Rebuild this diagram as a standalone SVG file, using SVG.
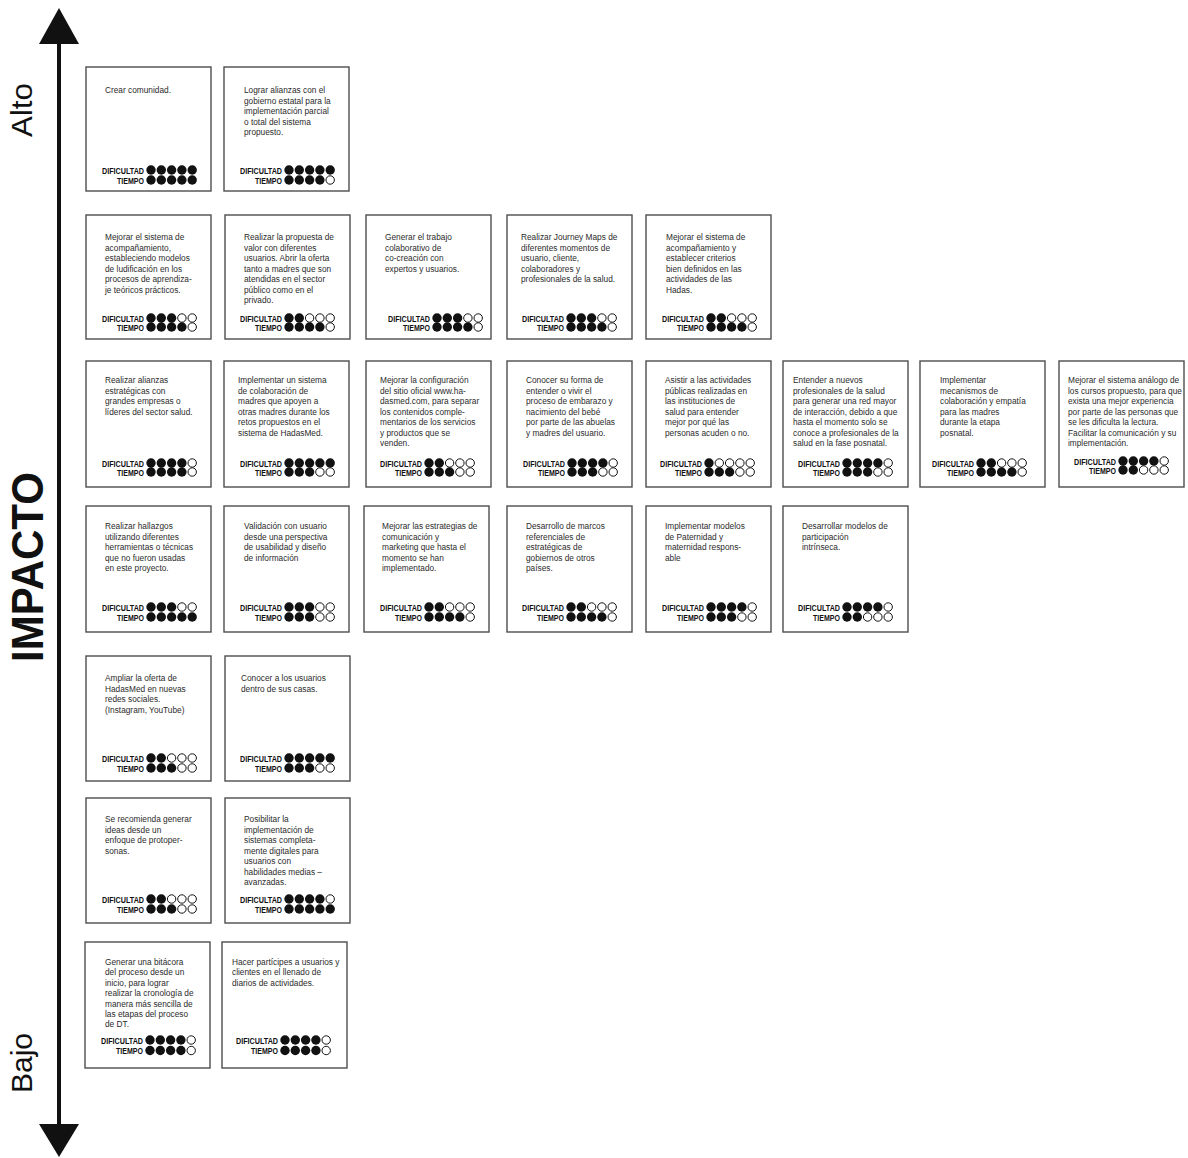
<svg xmlns="http://www.w3.org/2000/svg" width="1188" height="1158" viewBox="0 0 1188 1158">
<style>
.card rect{fill:#fff;stroke:#4d4d4d;stroke-width:1.4}
.t{font-family:"Liberation Sans",Arial,sans-serif;font-size:8.3px;fill:#2b2b2b}
.lbl{font-family:"Liberation Sans",Arial,sans-serif;font-weight:bold;font-size:9px;fill:#111;text-anchor:end}
.f{fill:#111}
.o{fill:#fff;stroke:#111;stroke-width:1}
.ax{font-family:"Liberation Sans",Arial,sans-serif;fill:#111;text-anchor:middle}
</style>
<g id="axis">
<line x1="59" y1="40" x2="59" y2="1126" stroke="#111" stroke-width="4"/>
<polygon points="59,8 39,44 79,44" fill="#111"/>
<polygon points="39,1124 79,1124 59,1157" fill="#111"/>
<text class="ax" transform="translate(32,110) rotate(-90)" font-size="29" textLength="54" lengthAdjust="spacingAndGlyphs">Alto</text>
<text class="ax" transform="translate(32,1063) rotate(-90)" font-size="29" textLength="60" lengthAdjust="spacingAndGlyphs">Bajo</text>
<text class="ax" transform="translate(43,567) rotate(-90)" font-size="44" font-weight="bold" textLength="190" lengthAdjust="spacingAndGlyphs">IMPACTO</text>
</g>

<g id="r1c1" class="card" transform="translate(86,67)">
<rect width="125" height="124"/>
<text class="t" y="26"><tspan x="19">Crear comunidad.</tspan></text>
<text class="lbl" x="58" y="106.5" textLength="42" lengthAdjust="spacingAndGlyphs">DIFICULTAD</text>
<text class="lbl" x="58" y="116.5" textLength="27" lengthAdjust="spacingAndGlyphs">TIEMPO</text>
<circle class="f" cx="65" cy="103" r="4.7"/><circle class="f" cx="75.3" cy="103" r="4.7"/><circle class="f" cx="85.6" cy="103" r="4.7"/><circle class="f" cx="95.9" cy="103" r="4.7"/><circle class="f" cx="106.2" cy="103" r="4.7"/>
<circle class="f" cx="65" cy="113" r="4.7"/><circle class="f" cx="75.3" cy="113" r="4.7"/><circle class="f" cx="85.6" cy="113" r="4.7"/><circle class="f" cx="95.9" cy="113" r="4.7"/><circle class="f" cx="106.2" cy="113" r="4.7"/>
</g>

<g id="r1c2" class="card" transform="translate(224,67)">
<rect width="125" height="124"/>
<text class="t" y="26"><tspan x="20">Lograr alianzas con el</tspan><tspan x="20" dy="10.5">gobierno estatal para la</tspan><tspan x="20" dy="10.5">implementación parcial</tspan><tspan x="20" dy="10.5">o total del sistema</tspan><tspan x="20" dy="10.5">propuesto.</tspan></text>
<text class="lbl" x="58" y="106.5" textLength="42" lengthAdjust="spacingAndGlyphs">DIFICULTAD</text>
<text class="lbl" x="58" y="116.5" textLength="27" lengthAdjust="spacingAndGlyphs">TIEMPO</text>
<circle class="f" cx="65" cy="103" r="4.7"/><circle class="f" cx="75.3" cy="103" r="4.7"/><circle class="f" cx="85.6" cy="103" r="4.7"/><circle class="f" cx="95.9" cy="103" r="4.7"/><circle class="f" cx="106.2" cy="103" r="4.7"/>
<circle class="f" cx="65" cy="113" r="4.7"/><circle class="f" cx="75.3" cy="113" r="4.7"/><circle class="f" cx="85.6" cy="113" r="4.7"/><circle class="f" cx="95.9" cy="113" r="4.7"/><circle class="o" cx="106.2" cy="113" r="4.2"/>
</g>

<g id="r2c1" class="card" transform="translate(86,215)">
<rect width="125" height="124"/>
<text class="t" y="25"><tspan x="19">Mejorar el sistema de</tspan><tspan x="19" dy="10.5">acompañamiento,</tspan><tspan x="19" dy="10.5">estableciendo modelos</tspan><tspan x="19" dy="10.5">de ludificación en los</tspan><tspan x="19" dy="10.5">procesos de aprendiza-</tspan><tspan x="19" dy="10.5">je teóricos prácticos.</tspan></text>
<text class="lbl" x="58" y="106.5" textLength="42" lengthAdjust="spacingAndGlyphs">DIFICULTAD</text>
<text class="lbl" x="58" y="115.5" textLength="27" lengthAdjust="spacingAndGlyphs">TIEMPO</text>
<circle class="f" cx="65" cy="103" r="4.7"/><circle class="f" cx="75.3" cy="103" r="4.7"/><circle class="f" cx="85.6" cy="103" r="4.7"/><circle class="o" cx="95.9" cy="103" r="4.2"/><circle class="o" cx="106.2" cy="103" r="4.2"/>
<circle class="f" cx="65" cy="112" r="4.7"/><circle class="f" cx="75.3" cy="112" r="4.7"/><circle class="f" cx="85.6" cy="112" r="4.7"/><circle class="f" cx="95.9" cy="112" r="4.7"/><circle class="o" cx="106.2" cy="112" r="4.2"/>
</g>

<g id="r2c2" class="card" transform="translate(225,215)">
<rect width="125" height="124"/>
<text class="t" y="25"><tspan x="19">Realizar la propuesta de</tspan><tspan x="19" dy="10.5">valor con diferentes</tspan><tspan x="19" dy="10.5">usuarios. Abrir la oferta</tspan><tspan x="19" dy="10.5">tanto a madres que son</tspan><tspan x="19" dy="10.5">atendidas en el sector</tspan><tspan x="19" dy="10.5">público como en el</tspan><tspan x="19" dy="10.5">privado.</tspan></text>
<text class="lbl" x="57" y="106.5" textLength="42" lengthAdjust="spacingAndGlyphs">DIFICULTAD</text>
<text class="lbl" x="57" y="115.5" textLength="27" lengthAdjust="spacingAndGlyphs">TIEMPO</text>
<circle class="f" cx="64" cy="103" r="4.7"/><circle class="f" cx="74.3" cy="103" r="4.7"/><circle class="o" cx="84.6" cy="103" r="4.2"/><circle class="o" cx="94.9" cy="103" r="4.2"/><circle class="o" cx="105.2" cy="103" r="4.2"/>
<circle class="f" cx="64" cy="112" r="4.7"/><circle class="f" cx="74.3" cy="112" r="4.7"/><circle class="f" cx="84.6" cy="112" r="4.7"/><circle class="f" cx="94.9" cy="112" r="4.7"/><circle class="o" cx="105.2" cy="112" r="4.2"/>
</g>

<g id="r2c3" class="card" transform="translate(366,215)">
<rect width="125" height="124"/>
<text class="t" y="25"><tspan x="19">Generar el trabajo</tspan><tspan x="19" dy="10.5">colaborativo de</tspan><tspan x="19" dy="10.5">co-creación con</tspan><tspan x="19" dy="10.5">expertos y usuarios.</tspan></text>
<text class="lbl" x="64" y="106.5" textLength="42" lengthAdjust="spacingAndGlyphs">DIFICULTAD</text>
<text class="lbl" x="64" y="115.5" textLength="27" lengthAdjust="spacingAndGlyphs">TIEMPO</text>
<circle class="f" cx="71" cy="103" r="4.7"/><circle class="f" cx="81.3" cy="103" r="4.7"/><circle class="f" cx="91.6" cy="103" r="4.7"/><circle class="o" cx="101.9" cy="103" r="4.2"/><circle class="o" cx="112.2" cy="103" r="4.2"/>
<circle class="f" cx="71" cy="112" r="4.7"/><circle class="f" cx="81.3" cy="112" r="4.7"/><circle class="f" cx="91.6" cy="112" r="4.7"/><circle class="f" cx="101.9" cy="112" r="4.7"/><circle class="o" cx="112.2" cy="112" r="4.2"/>
</g>

<g id="r2c4" class="card" transform="translate(507,215)">
<rect width="125" height="124"/>
<text class="t" y="25"><tspan x="14">Realizar Journey Maps de</tspan><tspan x="14" dy="10.5">diferentes momentos de</tspan><tspan x="14" dy="10.5">usuario, cliente,</tspan><tspan x="14" dy="10.5">colaboradores y</tspan><tspan x="14" dy="10.5">profesionales de la salud.</tspan></text>
<text class="lbl" x="57" y="106.5" textLength="42" lengthAdjust="spacingAndGlyphs">DIFICULTAD</text>
<text class="lbl" x="57" y="115.5" textLength="27" lengthAdjust="spacingAndGlyphs">TIEMPO</text>
<circle class="f" cx="64" cy="103" r="4.7"/><circle class="f" cx="74.3" cy="103" r="4.7"/><circle class="f" cx="84.6" cy="103" r="4.7"/><circle class="o" cx="94.9" cy="103" r="4.2"/><circle class="o" cx="105.2" cy="103" r="4.2"/>
<circle class="f" cx="64" cy="112" r="4.7"/><circle class="f" cx="74.3" cy="112" r="4.7"/><circle class="f" cx="84.6" cy="112" r="4.7"/><circle class="f" cx="94.9" cy="112" r="4.7"/><circle class="o" cx="105.2" cy="112" r="4.2"/>
</g>

<g id="r2c5" class="card" transform="translate(646,215)">
<rect width="125" height="124"/>
<text class="t" y="25"><tspan x="20">Mejorar el sistema de</tspan><tspan x="20" dy="10.5">acompañamiento y</tspan><tspan x="20" dy="10.5">establecer criterios</tspan><tspan x="20" dy="10.5">bien definidos en las</tspan><tspan x="20" dy="10.5">actividades de las</tspan><tspan x="20" dy="10.5">Hadas.</tspan></text>
<text class="lbl" x="58" y="106.5" textLength="42" lengthAdjust="spacingAndGlyphs">DIFICULTAD</text>
<text class="lbl" x="58" y="115.5" textLength="27" lengthAdjust="spacingAndGlyphs">TIEMPO</text>
<circle class="f" cx="65" cy="103" r="4.7"/><circle class="f" cx="75.3" cy="103" r="4.7"/><circle class="o" cx="85.6" cy="103" r="4.2"/><circle class="o" cx="95.9" cy="103" r="4.2"/><circle class="o" cx="106.2" cy="103" r="4.2"/>
<circle class="f" cx="65" cy="112" r="4.7"/><circle class="f" cx="75.3" cy="112" r="4.7"/><circle class="f" cx="85.6" cy="112" r="4.7"/><circle class="f" cx="95.9" cy="112" r="4.7"/><circle class="o" cx="106.2" cy="112" r="4.2"/>
</g>

<g id="r3c1" class="card" transform="translate(86,361)">
<rect width="125" height="126"/>
<text class="t" y="22"><tspan x="19">Realizar alianzas</tspan><tspan x="19" dy="10.5">estratégicas con</tspan><tspan x="19" dy="10.5">grandes empresas o</tspan><tspan x="19" dy="10.5">líderes del sector salud.</tspan></text>
<text class="lbl" x="58" y="105.5" textLength="42" lengthAdjust="spacingAndGlyphs">DIFICULTAD</text>
<text class="lbl" x="58" y="114.5" textLength="27" lengthAdjust="spacingAndGlyphs">TIEMPO</text>
<circle class="f" cx="65" cy="102" r="4.7"/><circle class="f" cx="75.3" cy="102" r="4.7"/><circle class="f" cx="85.6" cy="102" r="4.7"/><circle class="f" cx="95.9" cy="102" r="4.7"/><circle class="o" cx="106.2" cy="102" r="4.2"/>
<circle class="f" cx="65" cy="111" r="4.7"/><circle class="f" cx="75.3" cy="111" r="4.7"/><circle class="f" cx="85.6" cy="111" r="4.7"/><circle class="f" cx="95.9" cy="111" r="4.7"/><circle class="o" cx="106.2" cy="111" r="4.2"/>
</g>

<g id="r3c2" class="card" transform="translate(224,361)">
<rect width="125" height="126"/>
<text class="t" y="22"><tspan x="14">Implementar un sistema</tspan><tspan x="14" dy="10.5">de colaboración de</tspan><tspan x="14" dy="10.5">madres que apoyen a</tspan><tspan x="14" dy="10.5">otras madres durante los</tspan><tspan x="14" dy="10.5">retos propuestos en el</tspan><tspan x="14" dy="10.5">sistema de HadasMed.</tspan></text>
<text class="lbl" x="58" y="105.5" textLength="42" lengthAdjust="spacingAndGlyphs">DIFICULTAD</text>
<text class="lbl" x="58" y="114.5" textLength="27" lengthAdjust="spacingAndGlyphs">TIEMPO</text>
<circle class="f" cx="65" cy="102" r="4.7"/><circle class="f" cx="75.3" cy="102" r="4.7"/><circle class="f" cx="85.6" cy="102" r="4.7"/><circle class="f" cx="95.9" cy="102" r="4.7"/><circle class="f" cx="106.2" cy="102" r="4.7"/>
<circle class="f" cx="65" cy="111" r="4.7"/><circle class="f" cx="75.3" cy="111" r="4.7"/><circle class="f" cx="85.6" cy="111" r="4.7"/><circle class="o" cx="95.9" cy="111" r="4.2"/><circle class="o" cx="106.2" cy="111" r="4.2"/>
</g>

<g id="r3c3" class="card" transform="translate(366,361)">
<rect width="125" height="126"/>
<text class="t" y="22"><tspan x="14">Mejorar la configuración</tspan><tspan x="14" dy="10.5">del sitio oficial www.ha-</tspan><tspan x="14" dy="10.5">dasmed.com, para separar</tspan><tspan x="14" dy="10.5">los contenidos comple-</tspan><tspan x="14" dy="10.5">mentarios de los servicios</tspan><tspan x="14" dy="10.5">y productos que se</tspan><tspan x="14" dy="10.5">venden.</tspan></text>
<text class="lbl" x="56" y="105.5" textLength="42" lengthAdjust="spacingAndGlyphs">DIFICULTAD</text>
<text class="lbl" x="56" y="114.5" textLength="27" lengthAdjust="spacingAndGlyphs">TIEMPO</text>
<circle class="f" cx="63" cy="102" r="4.7"/><circle class="f" cx="73.3" cy="102" r="4.7"/><circle class="o" cx="83.6" cy="102" r="4.2"/><circle class="o" cx="93.9" cy="102" r="4.2"/><circle class="o" cx="104.2" cy="102" r="4.2"/>
<circle class="f" cx="63" cy="111" r="4.7"/><circle class="f" cx="73.3" cy="111" r="4.7"/><circle class="f" cx="83.6" cy="111" r="4.7"/><circle class="o" cx="93.9" cy="111" r="4.2"/><circle class="o" cx="104.2" cy="111" r="4.2"/>
</g>

<g id="r3c4" class="card" transform="translate(507,361)">
<rect width="125" height="126"/>
<text class="t" y="22"><tspan x="19">Conocer su forma de</tspan><tspan x="19" dy="10.5">entender o vivir el</tspan><tspan x="19" dy="10.5">proceso de embarazo y</tspan><tspan x="19" dy="10.5">nacimiento del bebé</tspan><tspan x="19" dy="10.5">por parte de las abuelas</tspan><tspan x="19" dy="10.5">y madres del usuario.</tspan></text>
<text class="lbl" x="58" y="105.5" textLength="42" lengthAdjust="spacingAndGlyphs">DIFICULTAD</text>
<text class="lbl" x="58" y="114.5" textLength="27" lengthAdjust="spacingAndGlyphs">TIEMPO</text>
<circle class="f" cx="65" cy="102" r="4.7"/><circle class="f" cx="75.3" cy="102" r="4.7"/><circle class="f" cx="85.6" cy="102" r="4.7"/><circle class="f" cx="95.9" cy="102" r="4.7"/><circle class="o" cx="106.2" cy="102" r="4.2"/>
<circle class="f" cx="65" cy="111" r="4.7"/><circle class="f" cx="75.3" cy="111" r="4.7"/><circle class="f" cx="85.6" cy="111" r="4.7"/><circle class="o" cx="95.9" cy="111" r="4.2"/><circle class="o" cx="106.2" cy="111" r="4.2"/>
</g>

<g id="r3c5" class="card" transform="translate(646,361)">
<rect width="125" height="126"/>
<text class="t" y="22"><tspan x="19">Asistir a las actividades</tspan><tspan x="19" dy="10.5">públicas realizadas en</tspan><tspan x="19" dy="10.5">las instituciones de</tspan><tspan x="19" dy="10.5">salud para entender</tspan><tspan x="19" dy="10.5">mejor por qué las</tspan><tspan x="19" dy="10.5">personas acuden o no.</tspan></text>
<text class="lbl" x="56" y="105.5" textLength="42" lengthAdjust="spacingAndGlyphs">DIFICULTAD</text>
<text class="lbl" x="56" y="114.5" textLength="27" lengthAdjust="spacingAndGlyphs">TIEMPO</text>
<circle class="f" cx="63" cy="102" r="4.7"/><circle class="o" cx="73.3" cy="102" r="4.2"/><circle class="o" cx="83.6" cy="102" r="4.2"/><circle class="o" cx="93.9" cy="102" r="4.2"/><circle class="o" cx="104.2" cy="102" r="4.2"/>
<circle class="f" cx="63" cy="111" r="4.7"/><circle class="f" cx="73.3" cy="111" r="4.7"/><circle class="f" cx="83.6" cy="111" r="4.7"/><circle class="o" cx="93.9" cy="111" r="4.2"/><circle class="o" cx="104.2" cy="111" r="4.2"/>
</g>

<g id="r3c6" class="card" transform="translate(783,361)">
<rect width="125" height="126"/>
<text class="t" y="22"><tspan x="10">Entender a nuevos</tspan><tspan x="10" dy="10.5">profesionales de la salud</tspan><tspan x="10" dy="10.5">para generar una red mayor</tspan><tspan x="10" dy="10.5">de interacción, debido a que</tspan><tspan x="10" dy="10.5">hasta el momento solo se</tspan><tspan x="10" dy="10.5">conoce a profesionales de la</tspan><tspan x="10" dy="10.5">salud en la fase posnatal.</tspan></text>
<text class="lbl" x="57" y="105.5" textLength="42" lengthAdjust="spacingAndGlyphs">DIFICULTAD</text>
<text class="lbl" x="57" y="114.5" textLength="27" lengthAdjust="spacingAndGlyphs">TIEMPO</text>
<circle class="f" cx="64" cy="102" r="4.7"/><circle class="f" cx="74.3" cy="102" r="4.7"/><circle class="f" cx="84.6" cy="102" r="4.7"/><circle class="f" cx="94.9" cy="102" r="4.7"/><circle class="o" cx="105.2" cy="102" r="4.2"/>
<circle class="f" cx="64" cy="111" r="4.7"/><circle class="f" cx="74.3" cy="111" r="4.7"/><circle class="f" cx="84.6" cy="111" r="4.7"/><circle class="o" cx="94.9" cy="111" r="4.2"/><circle class="o" cx="105.2" cy="111" r="4.2"/>
</g>

<g id="r3c7" class="card" transform="translate(920,361)">
<rect width="125" height="126"/>
<text class="t" y="22"><tspan x="20">Implementar</tspan><tspan x="20" dy="10.5">mecanismos de</tspan><tspan x="20" dy="10.5">colaboración y empatía</tspan><tspan x="20" dy="10.5">para las madres</tspan><tspan x="20" dy="10.5">durante la etapa</tspan><tspan x="20" dy="10.5">posnatal.</tspan></text>
<text class="lbl" x="54" y="105.5" textLength="42" lengthAdjust="spacingAndGlyphs">DIFICULTAD</text>
<text class="lbl" x="54" y="114.5" textLength="27" lengthAdjust="spacingAndGlyphs">TIEMPO</text>
<circle class="f" cx="61" cy="102" r="4.7"/><circle class="f" cx="71.3" cy="102" r="4.7"/><circle class="o" cx="81.6" cy="102" r="4.2"/><circle class="o" cx="91.9" cy="102" r="4.2"/><circle class="o" cx="102.2" cy="102" r="4.2"/>
<circle class="f" cx="61" cy="111" r="4.7"/><circle class="f" cx="71.3" cy="111" r="4.7"/><circle class="f" cx="81.6" cy="111" r="4.7"/><circle class="f" cx="91.9" cy="111" r="4.7"/><circle class="o" cx="102.2" cy="111" r="4.2"/>
</g>

<g id="r3c8" class="card" transform="translate(1059,361)">
<rect width="125" height="126"/>
<text class="t" y="22"><tspan x="9">Mejorar el sistema análogo de</tspan><tspan x="9" dy="10.5">los cursos propuesto, para que</tspan><tspan x="9" dy="10.5">exista una mejor experiencia</tspan><tspan x="9" dy="10.5">por parte de las personas que</tspan><tspan x="9" dy="10.5">se les dificulta la lectura.</tspan><tspan x="9" dy="10.5">Facilitar la comunicación y su</tspan><tspan x="9" dy="10.5">implementación.</tspan></text>
<text class="lbl" x="57" y="103.5" textLength="42" lengthAdjust="spacingAndGlyphs">DIFICULTAD</text>
<text class="lbl" x="57" y="112.5" textLength="27" lengthAdjust="spacingAndGlyphs">TIEMPO</text>
<circle class="f" cx="64" cy="100" r="4.7"/><circle class="f" cx="74.3" cy="100" r="4.7"/><circle class="f" cx="84.6" cy="100" r="4.7"/><circle class="f" cx="94.9" cy="100" r="4.7"/><circle class="o" cx="105.2" cy="100" r="4.2"/>
<circle class="f" cx="64" cy="109" r="4.7"/><circle class="f" cx="74.3" cy="109" r="4.7"/><circle class="o" cx="84.6" cy="109" r="4.2"/><circle class="o" cx="94.9" cy="109" r="4.2"/><circle class="o" cx="105.2" cy="109" r="4.2"/>
</g>

<g id="r4c1" class="card" transform="translate(86,506)">
<rect width="125" height="126"/>
<text class="t" y="23"><tspan x="19">Realizar hallazgos</tspan><tspan x="19" dy="10.5">utilizando diferentes</tspan><tspan x="19" dy="10.5">herramientas o técnicas</tspan><tspan x="19" dy="10.5">que no fueron usadas</tspan><tspan x="19" dy="10.5">en este proyecto.</tspan></text>
<text class="lbl" x="58" y="104.5" textLength="42" lengthAdjust="spacingAndGlyphs">DIFICULTAD</text>
<text class="lbl" x="58" y="114.5" textLength="27" lengthAdjust="spacingAndGlyphs">TIEMPO</text>
<circle class="f" cx="65" cy="101" r="4.7"/><circle class="f" cx="75.3" cy="101" r="4.7"/><circle class="f" cx="85.6" cy="101" r="4.7"/><circle class="o" cx="95.9" cy="101" r="4.2"/><circle class="o" cx="106.2" cy="101" r="4.2"/>
<circle class="f" cx="65" cy="111" r="4.7"/><circle class="f" cx="75.3" cy="111" r="4.7"/><circle class="f" cx="85.6" cy="111" r="4.7"/><circle class="f" cx="95.9" cy="111" r="4.7"/><circle class="f" cx="106.2" cy="111" r="4.7"/>
</g>

<g id="r4c2" class="card" transform="translate(224,506)">
<rect width="125" height="126"/>
<text class="t" y="23"><tspan x="20">Validación con usuario</tspan><tspan x="20" dy="10.5">desde una perspectiva</tspan><tspan x="20" dy="10.5">de usabilidad y diseño</tspan><tspan x="20" dy="10.5">de información</tspan></text>
<text class="lbl" x="58" y="104.5" textLength="42" lengthAdjust="spacingAndGlyphs">DIFICULTAD</text>
<text class="lbl" x="58" y="114.5" textLength="27" lengthAdjust="spacingAndGlyphs">TIEMPO</text>
<circle class="f" cx="65" cy="101" r="4.7"/><circle class="f" cx="75.3" cy="101" r="4.7"/><circle class="f" cx="85.6" cy="101" r="4.7"/><circle class="o" cx="95.9" cy="101" r="4.2"/><circle class="o" cx="106.2" cy="101" r="4.2"/>
<circle class="f" cx="65" cy="111" r="4.7"/><circle class="f" cx="75.3" cy="111" r="4.7"/><circle class="f" cx="85.6" cy="111" r="4.7"/><circle class="o" cx="95.9" cy="111" r="4.2"/><circle class="o" cx="106.2" cy="111" r="4.2"/>
</g>

<g id="r4c3" class="card" transform="translate(364,506)">
<rect width="125" height="126"/>
<text class="t" y="23"><tspan x="18">Mejorar las estrategias de</tspan><tspan x="18" dy="10.5">comunicación y</tspan><tspan x="18" dy="10.5">marketing que hasta el</tspan><tspan x="18" dy="10.5">momento se han</tspan><tspan x="18" dy="10.5">implementado.</tspan></text>
<text class="lbl" x="58" y="104.5" textLength="42" lengthAdjust="spacingAndGlyphs">DIFICULTAD</text>
<text class="lbl" x="58" y="114.5" textLength="27" lengthAdjust="spacingAndGlyphs">TIEMPO</text>
<circle class="f" cx="65" cy="101" r="4.7"/><circle class="f" cx="75.3" cy="101" r="4.7"/><circle class="o" cx="85.6" cy="101" r="4.2"/><circle class="o" cx="95.9" cy="101" r="4.2"/><circle class="o" cx="106.2" cy="101" r="4.2"/>
<circle class="f" cx="65" cy="111" r="4.7"/><circle class="f" cx="75.3" cy="111" r="4.7"/><circle class="f" cx="85.6" cy="111" r="4.7"/><circle class="f" cx="95.9" cy="111" r="4.7"/><circle class="o" cx="106.2" cy="111" r="4.2"/>
</g>

<g id="r4c4" class="card" transform="translate(507,506)">
<rect width="125" height="126"/>
<text class="t" y="23"><tspan x="19">Desarrollo de marcos</tspan><tspan x="19" dy="10.5">referenciales de</tspan><tspan x="19" dy="10.5">estratégicas de</tspan><tspan x="19" dy="10.5">gobiernos de otros</tspan><tspan x="19" dy="10.5">países.</tspan></text>
<text class="lbl" x="57" y="104.5" textLength="42" lengthAdjust="spacingAndGlyphs">DIFICULTAD</text>
<text class="lbl" x="57" y="114.5" textLength="27" lengthAdjust="spacingAndGlyphs">TIEMPO</text>
<circle class="f" cx="64" cy="101" r="4.7"/><circle class="f" cx="74.3" cy="101" r="4.7"/><circle class="o" cx="84.6" cy="101" r="4.2"/><circle class="o" cx="94.9" cy="101" r="4.2"/><circle class="o" cx="105.2" cy="101" r="4.2"/>
<circle class="f" cx="64" cy="111" r="4.7"/><circle class="f" cx="74.3" cy="111" r="4.7"/><circle class="f" cx="84.6" cy="111" r="4.7"/><circle class="f" cx="94.9" cy="111" r="4.7"/><circle class="o" cx="105.2" cy="111" r="4.2"/>
</g>

<g id="r4c5" class="card" transform="translate(646,506)">
<rect width="125" height="126"/>
<text class="t" y="23"><tspan x="19">Implementar modelos</tspan><tspan x="19" dy="10.5">de Paternidad y</tspan><tspan x="19" dy="10.5">maternidad respons-</tspan><tspan x="19" dy="10.5">able</tspan></text>
<text class="lbl" x="58" y="104.5" textLength="42" lengthAdjust="spacingAndGlyphs">DIFICULTAD</text>
<text class="lbl" x="58" y="114.5" textLength="27" lengthAdjust="spacingAndGlyphs">TIEMPO</text>
<circle class="f" cx="65" cy="101" r="4.7"/><circle class="f" cx="75.3" cy="101" r="4.7"/><circle class="f" cx="85.6" cy="101" r="4.7"/><circle class="f" cx="95.9" cy="101" r="4.7"/><circle class="o" cx="106.2" cy="101" r="4.2"/>
<circle class="f" cx="65" cy="111" r="4.7"/><circle class="f" cx="75.3" cy="111" r="4.7"/><circle class="f" cx="85.6" cy="111" r="4.7"/><circle class="o" cx="95.9" cy="111" r="4.2"/><circle class="o" cx="106.2" cy="111" r="4.2"/>
</g>

<g id="r4c6" class="card" transform="translate(783,506)">
<rect width="125" height="126"/>
<text class="t" y="23"><tspan x="19">Desarrollar modelos de</tspan><tspan x="19" dy="10.5">participación</tspan><tspan x="19" dy="10.5">intrínseca.</tspan></text>
<text class="lbl" x="57" y="104.5" textLength="42" lengthAdjust="spacingAndGlyphs">DIFICULTAD</text>
<text class="lbl" x="57" y="114.5" textLength="27" lengthAdjust="spacingAndGlyphs">TIEMPO</text>
<circle class="f" cx="64" cy="101" r="4.7"/><circle class="f" cx="74.3" cy="101" r="4.7"/><circle class="f" cx="84.6" cy="101" r="4.7"/><circle class="f" cx="94.9" cy="101" r="4.7"/><circle class="o" cx="105.2" cy="101" r="4.2"/>
<circle class="f" cx="64" cy="111" r="4.7"/><circle class="f" cx="74.3" cy="111" r="4.7"/><circle class="o" cx="84.6" cy="111" r="4.2"/><circle class="o" cx="94.9" cy="111" r="4.2"/><circle class="o" cx="105.2" cy="111" r="4.2"/>
</g>

<g id="r5c1" class="card" transform="translate(86,656)">
<rect width="125" height="125"/>
<text class="t" y="25"><tspan x="19">Ampliar la oferta de</tspan><tspan x="19" dy="10.5">HadasMed en nuevas</tspan><tspan x="19" dy="10.5">redes sociales.</tspan><tspan x="19" dy="10.5">(Instagram, YouTube)</tspan></text>
<text class="lbl" x="58" y="105.5" textLength="42" lengthAdjust="spacingAndGlyphs">DIFICULTAD</text>
<text class="lbl" x="58" y="115.5" textLength="27" lengthAdjust="spacingAndGlyphs">TIEMPO</text>
<circle class="f" cx="65" cy="102" r="4.7"/><circle class="f" cx="75.3" cy="102" r="4.7"/><circle class="o" cx="85.6" cy="102" r="4.2"/><circle class="o" cx="95.9" cy="102" r="4.2"/><circle class="o" cx="106.2" cy="102" r="4.2"/>
<circle class="f" cx="65" cy="112" r="4.7"/><circle class="f" cx="75.3" cy="112" r="4.7"/><circle class="f" cx="85.6" cy="112" r="4.7"/><circle class="o" cx="95.9" cy="112" r="4.2"/><circle class="o" cx="106.2" cy="112" r="4.2"/>
</g>

<g id="r5c2" class="card" transform="translate(225,656)">
<rect width="125" height="125"/>
<text class="t" y="25"><tspan x="16">Conocer a los usuarios</tspan><tspan x="16" dy="10.5">dentro de sus casas.</tspan></text>
<text class="lbl" x="57" y="105.5" textLength="42" lengthAdjust="spacingAndGlyphs">DIFICULTAD</text>
<text class="lbl" x="57" y="115.5" textLength="27" lengthAdjust="spacingAndGlyphs">TIEMPO</text>
<circle class="f" cx="64" cy="102" r="4.7"/><circle class="f" cx="74.3" cy="102" r="4.7"/><circle class="f" cx="84.6" cy="102" r="4.7"/><circle class="f" cx="94.9" cy="102" r="4.7"/><circle class="f" cx="105.2" cy="102" r="4.7"/>
<circle class="f" cx="64" cy="112" r="4.7"/><circle class="f" cx="74.3" cy="112" r="4.7"/><circle class="f" cx="84.6" cy="112" r="4.7"/><circle class="o" cx="94.9" cy="112" r="4.2"/><circle class="o" cx="105.2" cy="112" r="4.2"/>
</g>

<g id="r6c1" class="card" transform="translate(86,798)">
<rect width="125" height="125"/>
<text class="t" y="24"><tspan x="19">Se recomienda generar</tspan><tspan x="19" dy="10.5">ideas desde un</tspan><tspan x="19" dy="10.5">enfoque de protoper-</tspan><tspan x="19" dy="10.5">sonas.</tspan></text>
<text class="lbl" x="58" y="104.5" textLength="42" lengthAdjust="spacingAndGlyphs">DIFICULTAD</text>
<text class="lbl" x="58" y="114.5" textLength="27" lengthAdjust="spacingAndGlyphs">TIEMPO</text>
<circle class="f" cx="65" cy="101" r="4.7"/><circle class="f" cx="75.3" cy="101" r="4.7"/><circle class="o" cx="85.6" cy="101" r="4.2"/><circle class="o" cx="95.9" cy="101" r="4.2"/><circle class="o" cx="106.2" cy="101" r="4.2"/>
<circle class="f" cx="65" cy="111" r="4.7"/><circle class="f" cx="75.3" cy="111" r="4.7"/><circle class="f" cx="85.6" cy="111" r="4.7"/><circle class="o" cx="95.9" cy="111" r="4.2"/><circle class="o" cx="106.2" cy="111" r="4.2"/>
</g>

<g id="r6c2" class="card" transform="translate(225,798)">
<rect width="125" height="125"/>
<text class="t" y="24"><tspan x="19">Posibilitar la</tspan><tspan x="19" dy="10.5">implementación de</tspan><tspan x="19" dy="10.5">sistemas completa-</tspan><tspan x="19" dy="10.5">mente digitales para</tspan><tspan x="19" dy="10.5">usuarios con</tspan><tspan x="19" dy="10.5">habilidades medias –</tspan><tspan x="19" dy="10.5">avanzadas.</tspan></text>
<text class="lbl" x="57" y="104.5" textLength="42" lengthAdjust="spacingAndGlyphs">DIFICULTAD</text>
<text class="lbl" x="57" y="114.5" textLength="27" lengthAdjust="spacingAndGlyphs">TIEMPO</text>
<circle class="f" cx="64" cy="101" r="4.7"/><circle class="f" cx="74.3" cy="101" r="4.7"/><circle class="f" cx="84.6" cy="101" r="4.7"/><circle class="f" cx="94.9" cy="101" r="4.7"/><circle class="o" cx="105.2" cy="101" r="4.2"/>
<circle class="f" cx="64" cy="111" r="4.7"/><circle class="f" cx="74.3" cy="111" r="4.7"/><circle class="f" cx="84.6" cy="111" r="4.7"/><circle class="f" cx="94.9" cy="111" r="4.7"/><circle class="f" cx="105.2" cy="111" r="4.7"/>
</g>

<g id="r7c1" class="card" transform="translate(85,942)">
<rect width="125" height="126"/>
<text class="t" y="23"><tspan x="20">Generar una bitácora</tspan><tspan x="20" dy="10.4">del proceso desde un</tspan><tspan x="20" dy="10.4">inicio, para lograr</tspan><tspan x="20" dy="10.4">realizar la cronología de</tspan><tspan x="20" dy="10.4">manera más sencilla de</tspan><tspan x="20" dy="10.4">las etapas del proceso</tspan><tspan x="20" dy="10.4">de DT.</tspan></text>
<text class="lbl" x="58" y="101.5" textLength="42" lengthAdjust="spacingAndGlyphs">DIFICULTAD</text>
<text class="lbl" x="58" y="112" textLength="27" lengthAdjust="spacingAndGlyphs">TIEMPO</text>
<circle class="f" cx="65" cy="98" r="4.7"/><circle class="f" cx="75.3" cy="98" r="4.7"/><circle class="f" cx="85.6" cy="98" r="4.7"/><circle class="f" cx="95.9" cy="98" r="4.7"/><circle class="o" cx="106.2" cy="98" r="4.2"/>
<circle class="f" cx="65" cy="108.5" r="4.7"/><circle class="f" cx="75.3" cy="108.5" r="4.7"/><circle class="f" cx="85.6" cy="108.5" r="4.7"/><circle class="f" cx="95.9" cy="108.5" r="4.7"/><circle class="o" cx="106.2" cy="108.5" r="4.2"/>
</g>

<g id="r7c2" class="card" transform="translate(222,942)">
<rect width="125" height="126"/>
<text class="t" y="23"><tspan x="10">Hacer partícipes a usuarios y</tspan><tspan x="10" dy="10.4">clientes en el llenado de</tspan><tspan x="10" dy="10.4">diarios de actividades.</tspan></text>
<text class="lbl" x="56" y="101.5" textLength="42" lengthAdjust="spacingAndGlyphs">DIFICULTAD</text>
<text class="lbl" x="56" y="112" textLength="27" lengthAdjust="spacingAndGlyphs">TIEMPO</text>
<circle class="f" cx="63" cy="98" r="4.7"/><circle class="f" cx="73.3" cy="98" r="4.7"/><circle class="f" cx="83.6" cy="98" r="4.7"/><circle class="f" cx="93.9" cy="98" r="4.7"/><circle class="o" cx="104.2" cy="98" r="4.2"/>
<circle class="f" cx="63" cy="108.5" r="4.7"/><circle class="f" cx="73.3" cy="108.5" r="4.7"/><circle class="f" cx="83.6" cy="108.5" r="4.7"/><circle class="f" cx="93.9" cy="108.5" r="4.7"/><circle class="o" cx="104.2" cy="108.5" r="4.2"/>
</g>
</svg>
